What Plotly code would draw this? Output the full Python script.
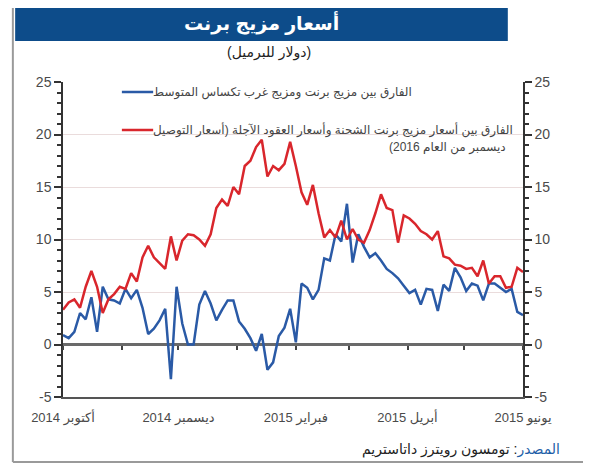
import pandas as pd
import plotly.graph_objects as go

# dates: every 3 days from 1 Oct 2014 to 1 Jun 2015
dates = pd.date_range("2014-10-01", periods=82, freq="3D")

# Brent - WTI spread ($/bbl)
brent_wti = [
    0.9, 0.6, 1.2, 3.0, 2.4, 4.5, 1.2, 5.5, 4.3, 4.2,
    3.9, 5.3, 4.4, 5.2, 3.5, 1.0, 1.5, 2.3, 3.4, -3.3,
    5.5, 2.0, 0.0, 0.0, 3.8, 5.1, 3.9, 2.3, 3.3, 4.2,
    4.2, 2.2, 1.5, 0.6, -0.6, 1.0, -2.4, -1.7, 0.8, 1.6,
    3.4, 0.2, 5.8, 5.4, 4.3, 5.2, 8.2, 8.0, 10.5, 9.8,
    13.4, 7.8, 10.5, 9.3, 8.3, 8.7, 8.0, 7.2, 6.8, 6.3,
    5.6, 4.9, 5.2, 3.8, 5.3, 5.2, 3.2, 5.7, 5.1, 7.3,
    6.4, 5.1, 5.8, 5.6, 4.2, 5.8, 5.8, 5.4, 5.0, 5.3,
    3.1, 2.8,
]

# Brent spot vs Dec-2016 futures spread ($/bbl)
brent_contango = [
    3.3, 4.0, 4.3, 3.5, 5.5, 7.0, 5.5, 3.0, 4.3, 4.8,
    5.5, 5.3, 6.8, 6.0, 8.3, 9.4, 8.3, 7.7, 7.2, 10.3,
    8.0, 9.9, 10.5, 10.4, 10.0, 9.4, 10.5, 13.0, 13.8, 13.2,
    15.0, 14.3, 17.0, 17.5, 18.8, 19.5, 16.0, 17.0, 16.6, 17.2,
    19.3, 17.0, 14.5, 13.3, 15.2, 12.5, 10.2, 10.9, 10.2, 11.8,
    10.0, 11.0, 10.0, 9.7, 10.9, 12.5, 14.3, 13.0, 12.8, 9.7,
    12.3, 12.0, 11.5, 10.8, 10.5, 10.0, 10.8, 8.4, 8.2, 7.6,
    7.5, 7.2, 7.3, 6.5, 8.0, 5.8, 6.5, 6.5, 5.4, 5.5,
    7.3, 6.9,
]

month_ticks = pd.date_range("2014-10-01", "2015-06-01", freq="MS")
label_ticks = ["2014-10-01", "2014-12-01", "2015-02-01", "2015-04-01", "2015-06-01"]
label_text = ["أكتوبر 2014", "ديسمبر 2014", "فبراير 2015", "أبريل 2015", "يونيو 2015"]
y_ticks = [-5, 0, 5, 10, 15, 20, 25]
y_text = ["-5", "0", "5", "10", "15", "20", "25"]

title_txt = "أسعار مزيج برنت"
unit_txt = "\u200f(دولار للبرميل)\u200f"
blue_name = "الفارق بين مزيج برنت ومزيج غرب تكساس المتوسط"
red_line1 = "الفارق بين أسعار مزيج برنت الشحنة وأسعار العقود الآجلة (أسعار التوصيل"
red_line2 = "ديسمبر من العام 2016)\u200f"
source_txt = "<span style='color:#1f5fa8'>المصدر</span>: تومسون رويترز داتاستريم"

BLUE = "#2a5aa6"
RED = "#d9262c"
FONT = "Liberation Sans, DejaVu Sans, sans-serif"

fig = go.Figure()
fig.add_trace(go.Scatter(x=dates, y=brent_wti, mode="lines", name=blue_name,
                         line=dict(color=BLUE, width=2.5)))
fig.add_trace(go.Scatter(x=dates, y=brent_contango, mode="lines", name=red_line1,
                         line=dict(color=RED, width=2.5), xaxis="x2", yaxis="y2"))

x_range = ["2014-10-01", "2015-06-01"]
axis_y = dict(range=[-5, 25], tickvals=y_ticks, ticktext=y_text,
              showline=True, linecolor="#333", linewidth=1.5,
              ticks="outside", ticklen=7, tickcolor="#333", tickwidth=1.5,
              minor=dict(dtick=1, ticks="outside", ticklen=4, tickcolor="#333", showgrid=False),
              tickfont=dict(family=FONT, size=14, color="#4a4a4a"),
              fixedrange=True)

# page body adds an 8px offset, so the figure is 8px smaller and margins shifted
fig.update_layout(
    width=583, height=463,
    margin=dict(l=55, r=68, t=74, b=74),
    paper_bgcolor="white", plot_bgcolor="white",
    showlegend=False,
    font=dict(family=FONT, color="#333"),
    xaxis=dict(type="date", range=x_range, tickvals=label_ticks, ticktext=label_text,
               showline=True, linecolor="#555", linewidth=1.5, ticks="",
               showgrid=False, zeroline=False, ticklabelstandoff=8,
               tickfont=dict(family=FONT, size=13, color="#4a4a4a")),
    xaxis2=dict(type="date", range=x_range, overlaying="x", anchor="free", position=1 / 6,
                tickvals=month_ticks, showticklabels=False, showline=False, showgrid=False,
                ticks="outside", ticklen=4, tickcolor="#444", tickwidth=2, zeroline=False),
    yaxis=dict(**axis_y, side="left", showgrid=True, gridcolor="#eadcdc", gridwidth=1,
               zeroline=True, zerolinecolor="#6a6a6a", zerolinewidth=2.5),
    yaxis2=dict(**axis_y, side="right", overlaying="y", anchor="x", showgrid=False, zeroline=False),
)

# frame around the panel
frame = dict(type="line", xref="paper", yref="paper", line=dict(color="#9a9a9a", width=2))
fig.add_shape(**frame, x0=-0.109, x1=1.2, y0=1.251, y1=1.251)
fig.add_shape(**frame, x0=-0.109, x1=-0.109, y0=1.251, y1=-0.206)
fig.add_shape(**frame, x0=-0.109, x1=1.2, y0=-0.206, y1=-0.206)

# title bar
fig.add_shape(type="rect", xref="paper", yref="paper", x0=-0.104, x1=0.967, y0=1.130, y1=1.244,
              fillcolor="#0d4c8a", line=dict(width=0))
fig.add_annotation(text="<b>" + title_txt + "</b>", xref="paper", yref="paper", x=0.432, y=1.187,
                   xanchor="center", yanchor="middle", showarrow=False,
                   font=dict(family=FONT, size=19, color="white"))
fig.add_annotation(text=unit_txt, xref="paper", yref="paper", x=0.448, y=1.095,
                   xanchor="center", yanchor="middle", showarrow=False,
                   font=dict(family=FONT, size=14, color="#222"))

# legend
legend_font = dict(family=FONT, size=12, color="#444")
fig.add_shape(type="line", xref="paper", yref="paper", x0=0.128, x1=0.196, y0=0.968, y1=0.968,
              line=dict(color=BLUE, width=2.5))
fig.add_annotation(text=blue_name, xref="paper", yref="paper", x=0.478, y=0.968,
                   xanchor="center", yanchor="middle", showarrow=False, font=legend_font)
fig.add_shape(type="line", xref="paper", yref="paper", x0=0.128, x1=0.196, y0=0.848, y1=0.848,
              line=dict(color=RED, width=2.5))
fig.add_annotation(text=red_line1, xref="paper", yref="paper", x=0.588, y=0.848,
                   xanchor="center", yanchor="middle", showarrow=False, font=legend_font)
fig.add_annotation(text=red_line2, xref="paper", yref="paper", x=0.836, y=0.792,
                   xanchor="center", yanchor="middle", showarrow=False, font=legend_font)

# source
fig.add_annotation(text=source_txt, xref="paper", yref="paper", x=0.866, y=-0.168,
                   xanchor="center", yanchor="middle", showarrow=False,
                   font=dict(family=FONT, size=14, color="#222"))

fig.write_html("out.html")
